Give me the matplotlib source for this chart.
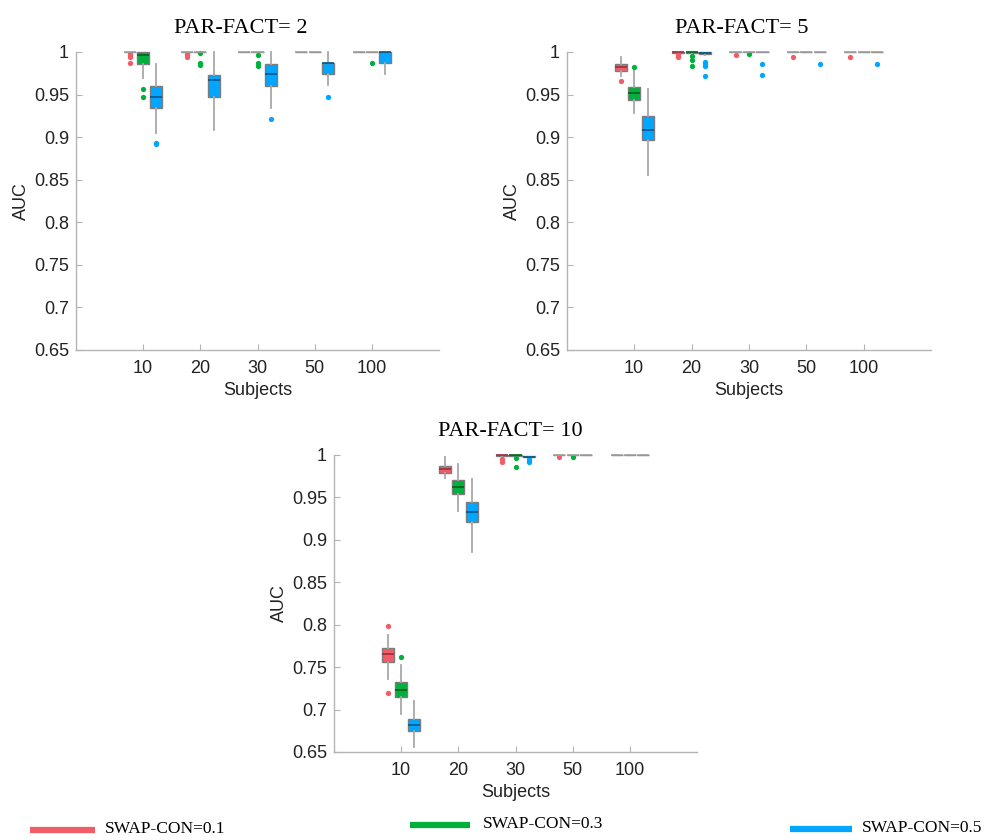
import matplotlib
matplotlib.use('Agg')
import matplotlib.pyplot as plt
from matplotlib.lines import Line2D
from matplotlib.ticker import FormatStrFormatter

subjects = ['10', '20', '30', '50', '100']
series = ['SWAP-CON=0.1', 'SWAP-CON=0.3', 'SWAP-CON=0.5']
colors = ['#F25C66', '#00B03C', '#00A6FF']
median_colors = ['#9E2E3A', '#00621F', '#00568F']

# PAR-FACT = 2 : one row per series, one value per subject count
pf2_lo = [[1, 1, 1, 1, 1],
          [0.970, 1, 1, 1, 1],
          [0.905, 0.908, 0.934, 0.961, 0.974]]
pf2_q1 = [[1, 1, 1, 1, 1],
          [0.9856, 1, 1, 1, 1],
          [0.934, 0.947, 0.960, 0.974, 0.987]]
pf2_med = [[1, 1, 1, 1, 1],
           [0.9965, 1, 1, 1, 1],
           [0.947, 0.967, 0.974, 0.987, 1]]
pf2_q3 = [[1, 1, 1, 1, 1],
          [1, 1, 1, 1, 1],
          [0.960, 0.973, 0.986, 0.987, 1]]
pf2_hi = [[1, 1, 1, 1, 1],
          [1, 1, 1, 1, 1],
          [0.986, 1, 1, 1, 1]]
pf2_out = [[[0.998, 0.996, 0.994, 0.987], [0.998, 0.996, 0.994], [], [], []],
           [[0.957, 0.947], [0.999, 0.987, 0.985], [0.997, 0.987, 0.984], [], [0.987]],
           [[0.893, 0.892], [], [0.921], [0.947], []]]

# PAR-FACT = 5
pf5_lo = [[0.972, 0.999, 1, 1, 1],
          [0.928, 0.9965, 1, 1, 1],
          [0.856, 0.996, 1, 1, 1]]
pf5_q1 = [[0.978, 0.999, 1, 1, 1],
          [0.9436, 0.999, 1, 1, 1],
          [0.897, 0.998, 1, 1, 1]]
pf5_med = [[0.982, 1, 1, 1, 1],
           [0.9515, 1, 1, 1, 1],
           [0.908, 0.999, 1, 1, 1]]
pf5_q3 = [[0.986, 1, 1, 1, 1],
          [0.9585, 1, 1, 1, 1],
          [0.925, 1, 1, 1, 1]]
pf5_hi = [[0.994, 1, 1, 1, 1],
          [0.979, 1, 1, 1, 1],
          [0.957, 1, 1, 1, 1]]
pf5_out = [[[0.966], [0.998, 0.995, 0.994], [0.9965], [0.994], [0.994]],
           [[0.982], [0.995, 0.991, 0.983], [0.998], [], []],
           [[], [0.988, 0.986, 0.984, 0.972], [0.986, 0.973], [0.986], [0.986]]]

# PAR-FACT = 10
pf10_lo = [[0.736, 0.9726, 0.997, 1, 1],
           [0.695, 0.934, 0.999, 1, 1],
           [0.656, 0.8855, 0.997, 1, 1]]
pf10_q1 = [[0.756, 0.9792, 0.999, 1, 1],
           [0.715, 0.954, 0.999, 1, 1],
           [0.6745, 0.9208, 0.998, 1, 1]]
pf10_med = [[0.7655, 0.9835, 1, 1, 1],
            [0.7235, 0.962, 1, 1, 1],
            [0.682, 0.933, 0.998, 1, 1]]
pf10_q3 = [[0.7726, 0.9874, 1, 1, 1],
           [0.732, 0.9706, 1, 1, 1],
           [0.6894, 0.9444, 0.999, 1, 1]]
pf10_hi = [[0.788, 0.9973, 1, 1, 1],
           [0.753, 0.989, 1, 1, 1],
           [0.710, 0.9714, 0.999, 1, 1]]
pf10_out = [[[0.7985, 0.7196], [], [0.995, 0.992], [0.998], []],
            [[0.7624], [], [0.996, 0.9855], [0.998], []],
            [[], [], [0.995, 0.993, 0.992], [], []]]

panels = [
    ('PAR-FACT= 2', pf2_lo, pf2_q1, pf2_med, pf2_q3, pf2_hi, pf2_out),
    ('PAR-FACT= 5', pf5_lo, pf5_q1, pf5_med, pf5_q3, pf5_hi, pf5_out),
    ('PAR-FACT= 10', pf10_lo, pf10_q1, pf10_med, pf10_q3, pf10_hi, pf10_out),
]

W, H = 984, 840
rects = [(76 / W, 490 / H, 363 / W, 298 / H),
         (567 / W, 490 / H, 364 / W, 298 / H),
         (334 / W, 88 / H, 363 / W, 297 / H)]
title_x = [0.455, 0.48, 0.485]

offsets = [-0.235, 0.0, 0.235]
box_w = 0.21
spine_gray = '#B4B4B4'
sans = 'Liberation Sans'
serif = 'Liberation Serif'

fig = plt.figure(figsize=(W / 100, H / 100), dpi=100)

for (title, lo, q1, med, q3, hi, out), rect, tx in zip(panels, rects, title_x):
    ax = fig.add_axes(rect)
    for s in range(3):
        for g in range(len(subjects)):
            st = dict(whislo=lo[s][g], q1=q1[s][g], med=med[s][g],
                      q3=q3[s][g], whishi=hi[s][g], fliers=out[s][g])
            flat = q1[s][g] == q3[s][g]
            mc = '#A0A0A0' if flat else median_colors[s]
            arts = ax.bxp([st], positions=[g + 1 + offsets[s]], widths=box_w,
                          patch_artist=True, showcaps=False,
                          boxprops=dict(facecolor=colors[s], edgecolor='#7C7C7C',
                                        linewidth=1.0),
                          whiskerprops=dict(color='#A8A8A8', linewidth=1.3),
                          medianprops=dict(color=mc, linewidth=1.2),
                          flierprops=dict(marker='o', markersize=3.8,
                                          markerfacecolor=colors[s],
                                          markeredgecolor='none'),
                          manage_ticks=False)
            for key in arts:
                for a in arts[key]:
                    a.set_clip_on(False)

    ax.set_xlim(-0.17, 6.17)
    ax.set_ylim(0.65, 1.0)
    ax.set_xticks(range(1, len(subjects) + 1))
    ax.set_xticklabels(subjects)
    ax.set_yticks([0.65, 0.7, 0.75, 0.8, 0.85, 0.9, 0.95, 1.0])
    ax.yaxis.set_major_formatter(FormatStrFormatter('%g'))
    for side in ['top', 'right']:
        ax.spines[side].set_visible(False)
    for side in ['left', 'bottom']:
        ax.spines[side].set_color(spine_gray)
        ax.spines[side].set_linewidth(1.0)
    ax.tick_params(direction='in', length=4, width=0.8, color=spine_gray,
                   labelsize=13, labelcolor='#222222')
    ax.tick_params(axis='x', pad=7)
    ax.tick_params(axis='y', pad=5)
    for lab in ax.get_xticklabels() + ax.get_yticklabels():
        lab.set_fontfamily(sans)
    ax.set_xlabel('Subjects', fontsize=13, fontfamily=sans, color='#222222',
                  labelpad=4)
    ax.set_ylabel('AUC', fontsize=13, fontfamily=sans, color='#222222',
                  labelpad=3)
    ax.set_title(title, x=tx, fontsize=16, fontfamily=serif, pad=14)

# legend keys along the bottom of the figure
leg = [(30, 95, 105, 830), (410, 470, 483, 825), (790, 852, 862, 829)]
for (x0, x1, xt, y), lab, c in zip(leg, series, colors):
    fig.add_artist(Line2D([x0 / W, x1 / W], [1 - y / H, 1 - y / H],
                          transform=fig.transFigure, color=c, linewidth=4.5,
                          solid_capstyle='butt'))
    fig.text(xt / W, 1 - (y - 1) / H, lab, fontsize=12.5, fontfamily=serif,
             va='center', ha='left')

fig.savefig('out.png', dpi=100)
